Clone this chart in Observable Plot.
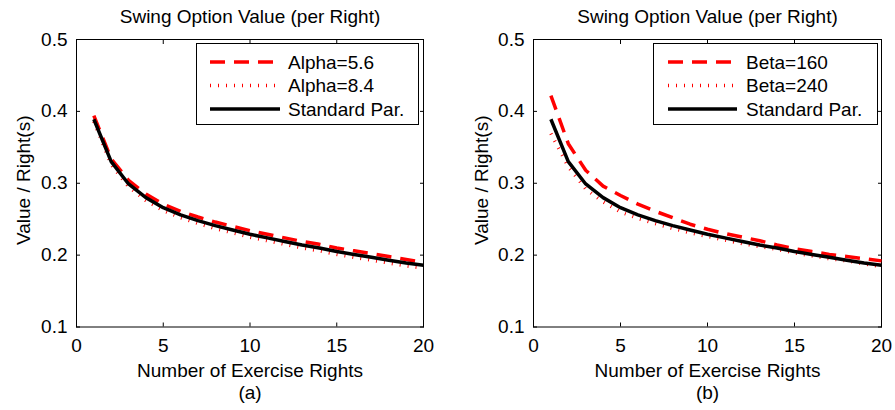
<!DOCTYPE html>
<html><head><meta charset="utf-8">
<script src="https://cdn.jsdelivr.net/npm/d3@7"></script>
<script src="https://cdn.jsdelivr.net/npm/@observablehq/plot@0.6"></script>
<style>
body{margin:0;background:#fff;}
#wrap{position:relative;width:895px;height:410px;font-family:"Liberation Sans",Arial,sans-serif;}
#a,#b{position:absolute;top:0;}
#a{left:0px}#b{left:447px}
</style></head><body><div id="wrap"><div id="a"></div><div id="b"></div></div>
<script>
// ---- data ----
const rights = [1,2,3,4,5,6,7,8,9,10,11,12,13,14,15,16,17,18,19,20];
const standard = [0.389,0.330,0.299,0.280,0.266,0.256,0.248,0.241,0.235,0.229,0.224,0.219,0.214,0.210,0.205,0.201,0.197,0.193,0.189,0.186];
const alpha56 = [0.394,0.334,0.304,0.285,0.271,0.261,0.253,0.246,0.240,0.234,0.229,0.224,0.219,0.215,0.210,0.206,0.202,0.198,0.194,0.190];
const alpha84 = [0.386,0.326,0.295,0.276,0.262,0.252,0.244,0.237,0.231,0.225,0.220,0.215,0.210,0.206,0.201,0.197,0.193,0.189,0.185,0.182];
const beta160 = [0.422,0.355,0.318,0.296,0.283,0.271,0.261,0.252,0.243,0.236,0.230,0.225,0.220,0.214,0.209,0.205,0.201,0.198,0.195,0.192];
const beta240 = [0.369,0.323,0.292,0.274,0.260,0.251,0.244,0.237,0.231,0.226,0.221,0.216,0.212,0.208,0.203,0.199,0.195,0.192,0.188,0.184];
const xTicks = [0,5,10,15,20];
const yTicks = [0.1,0.2,0.3,0.4,0.5];
const titleText = "Swing Option Value (per Right)";
const xLabel = "Number of Exercise Rights";
const yLabel = "Value / Right(s)";
const panelLabels = ["(a)","(b)"];
const namesA = ["Alpha=5.6","Alpha=8.4","Standard Par."];
const namesB = ["Beta=160","Beta=240","Standard Par."];

const styles = [
  {stroke:"#ff0000", strokeWidth:3.5, strokeDasharray:"15,9", strokeLinecap:"butt"},
  {stroke:"#ff0000", strokeWidth:3.5, strokeDasharray:"1,7", strokeLinecap:"butt"},
  {stroke:"#000000", strokeWidth:3.5, strokeDasharray:null, strokeLinecap:"butt"}
];

function toRows(vals){ return rights.map((r,i)=>({x:r, y:vals[i]})); }

function panel(el, seriesVals, names, label, geom){
  const font = 19;
  const marks = [
    Plot.frame({stroke:"black", strokeWidth:1}),
    Plot.axisX({anchor:"bottom", ticks:xTicks, tickSize:-4, tickPadding:15.5, fontSize:font, label:null}),
    Plot.axisX({anchor:"top", ticks:xTicks, tickSize:-4, tickFormat:()=>"", label:null}),
    Plot.axisY({anchor:"left", ticks:yTicks, tickSize:-4, tickPadding:13, tickFormat:d3.format(".1f"), fontSize:font, label:null}),
    Plot.axisY({anchor:"right", ticks:yTicks, tickSize:-4, tickFormat:()=>"", label:null}),
  ];
  seriesVals.forEach((vals,i)=>{
    const s = styles[i];
    const o = {x:"x", y:"y", stroke:s.stroke, strokeWidth:s.strokeWidth, strokeLinecap:s.strokeLinecap, strokeLinejoin:"round"};
    if (s.strokeDasharray) o.strokeDasharray = s.strokeDasharray;
    marks.push(Plot.line(toRows(vals), o));
  });
  const tOpt = {fontSize:font, text:d=>d, lineAnchor:"middle", textAnchor:"middle"};
  marks.push(Plot.text([titleText], {...tOpt, frameAnchor:"top", dy:-23}));
  marks.push(Plot.text([xLabel], {...tOpt, frameAnchor:"bottom", dy:43.5}));
  marks.push(Plot.text([label], {...tOpt, frameAnchor:"bottom", dy:65.5}));
  marks.push(Plot.text([yLabel], {...tOpt, frameAnchor:"left", dx:geom.ylabDx, dy:-3, rotate:-90}));
  const chart = Plot.plot({
    width:geom.width, height:410,
    marginTop:39, marginBottom:83.5, marginLeft:geom.ml, marginRight:geom.mr,
    style:{fontFamily:'"Liberation Sans",Arial,sans-serif', fontSize:"19px", background:"transparent", color:"black"},
    x:{domain:[0,20]}, y:{domain:[0.1,0.5]},
    marks
  });
  el.appendChild(chart);
  // legend
  const svg = d3.select(chart);
  const L = geom.legend;
  const g = svg.append("g");
  g.append("rect").attr("x",L.x+0.5).attr("y",L.y+0.5).attr("width",L.w).attr("height",L.h)
    .attr("fill","white").attr("stroke","black").attr("stroke-width",1);
  names.forEach((n,i)=>{
    const yy = L.y + L.row0 + i*L.rowStep;
    const s = styles[i];
    const ln = g.append("line").attr("x1",L.x+L.l1).attr("x2",L.x+L.l2).attr("y1",yy).attr("y2",yy)
      .attr("stroke",s.stroke).attr("stroke-width",s.strokeWidth).attr("stroke-linecap","butt");
    if (s.strokeDasharray) ln.attr("stroke-dasharray", s.strokeDasharray);
    g.append("text").attr("x",L.x+L.tx).attr("y",yy).attr("dy","0.35em")
      .attr("text-anchor","start").attr("font-size",font).attr("fill","black").text(n);
  });
}

panel(document.getElementById("a"), [alpha56, alpha84, standard], namesA, panelLabels[0],
  {width:447, ml:76, mr:24, ylabDx:-53,
   legend:{x:196, y:43, w:222, h:81, row0:19, rowStep:23.5, l1:14, l2:84, tx:92}});
panel(document.getElementById("b"), [beta160, beta240, standard], namesB, panelLabels[1],
  {width:448, ml:86, mr:14, ylabDx:-52,
   legend:{x:206, y:43, w:224, h:81, row0:19, rowStep:23.5, l1:15, l2:84, tx:93}});
</script>
</body></html>
